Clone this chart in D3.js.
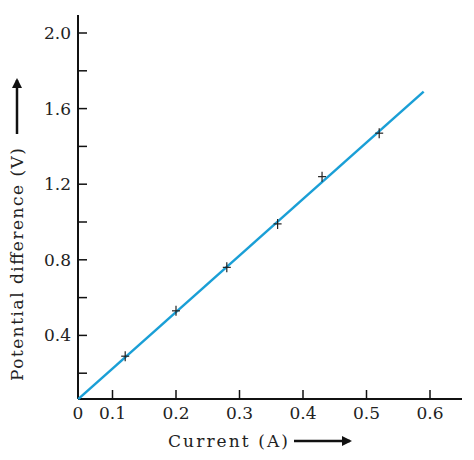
<!DOCTYPE html>
<html><head><meta charset="utf-8">
<script src="https://cdn.jsdelivr.net/npm/d3@7"></script>
<style>body{margin:0;background:#fff}text{font-family:"DejaVu Serif",serif;fill:#222}</style>
</head><body><svg id="c"></svg>
<script>
const xTicks = [0.1, 0.2, 0.3, 0.4, 0.5, 0.6];
const yTicks = [0.4, 0.8, 1.2, 1.6, 2.0];
const yMinor = [0.2, 0.6, 1.0, 1.4, 1.8];
const current = [0.12, 0.20, 0.28, 0.36, 0.43, 0.52];
const voltage = [0.29, 0.53, 0.76, 0.99, 1.24, 1.47];
const lineX = [0.046, 0.59];
const lineY = [0.063, 1.69];

const svg = d3.select('#c').attr('width', 474).attr('height', 460);
const x = d3.scaleLinear().domain([0, 0.6]).range([49, 430]);
const y = d3.scaleLinear().domain([0, 2.0]).range([411, 33]);
const ox = 78, oy = 399;

svg.append('line').attr('x1', ox).attr('x2', 462).attr('y1', oy).attr('y2', oy).attr('stroke', '#111').attr('stroke-width', 2);
svg.append('line').attr('x1', ox).attr('x2', ox).attr('y1', 15).attr('y2', oy).attr('stroke', '#111').attr('stroke-width', 2);

svg.selectAll('.xt').data(xTicks).join('line')
  .attr('x1', d => x(d)).attr('x2', d => x(d)).attr('y1', oy).attr('y2', oy - 9)
  .attr('stroke', '#111').attr('stroke-width', 1.5);
svg.selectAll('.xl').data([0, ...xTicks]).join('text')
  .attr('x', d => d === 0 ? ox : x(d)).attr('y', oy + 20)
  .attr('text-anchor', 'middle').attr('font-size', 17)
  .text(d => d === 0 ? '0' : d.toFixed(1));

svg.selectAll('.yt').data([...yTicks, ...yMinor]).join('line')
  .attr('x1', ox).attr('x2', ox + 9).attr('y1', d => y(d)).attr('y2', d => y(d))
  .attr('stroke', '#111').attr('stroke-width', 1.5);
svg.selectAll('.yl').data(yTicks).join('text')
  .attr('x', ox - 7).attr('y', d => y(d) + 6)
  .attr('text-anchor', 'end').attr('font-size', 17)
  .text(d => d.toFixed(1));

svg.append('line')
  .attr('x1', x(lineX[0])).attr('y1', y(lineY[0]))
  .attr('x2', x(lineX[1])).attr('y2', y(lineY[1]))
  .attr('stroke', '#1a9fd6').attr('stroke-width', 2.5);

const pts = current.map((c, i) => [x(c), y(voltage[i])]);
const g = svg.selectAll('.pt').data(pts).join('g').attr('transform', d => `translate(${d[0]},${d[1]})`);
g.append('line').attr('x1', -4).attr('x2', 4).attr('stroke', '#222').attr('stroke-width', 1.2);
g.append('line').attr('y1', -5).attr('y2', 5).attr('stroke', '#222').attr('stroke-width', 1.2);

svg.append('defs').append('marker').attr('id', 'ar').attr('viewBox', '0 0 10 10')
  .attr('refX', 8).attr('refY', 5).attr('markerWidth', 4).attr('markerHeight', 4).attr('orient', 'auto')
  .append('path').attr('d', 'M0,0L10,5L0,10z').attr('fill', '#111');

svg.append('text').attr('x', 168).attr('y', 447).attr('font-size', 17).attr('textLength', 120).text('Current (A)');
svg.append('line').attr('x1', 294).attr('x2', 350).attr('y1', 441).attr('y2', 441)
  .attr('stroke', '#111').attr('stroke-width', 2.5).attr('marker-end', 'url(#ar)');

svg.append('text').attr('transform', 'translate(23,381) rotate(-90)').attr('font-size', 17).attr('textLength', 233).text('Potential difference (V)');
svg.append('line').attr('x1', 17).attr('x2', 17).attr('y1', 134).attr('y2', 80)
  .attr('stroke', '#111').attr('stroke-width', 2.5).attr('marker-end', 'url(#ar)');
</script></body></html>
